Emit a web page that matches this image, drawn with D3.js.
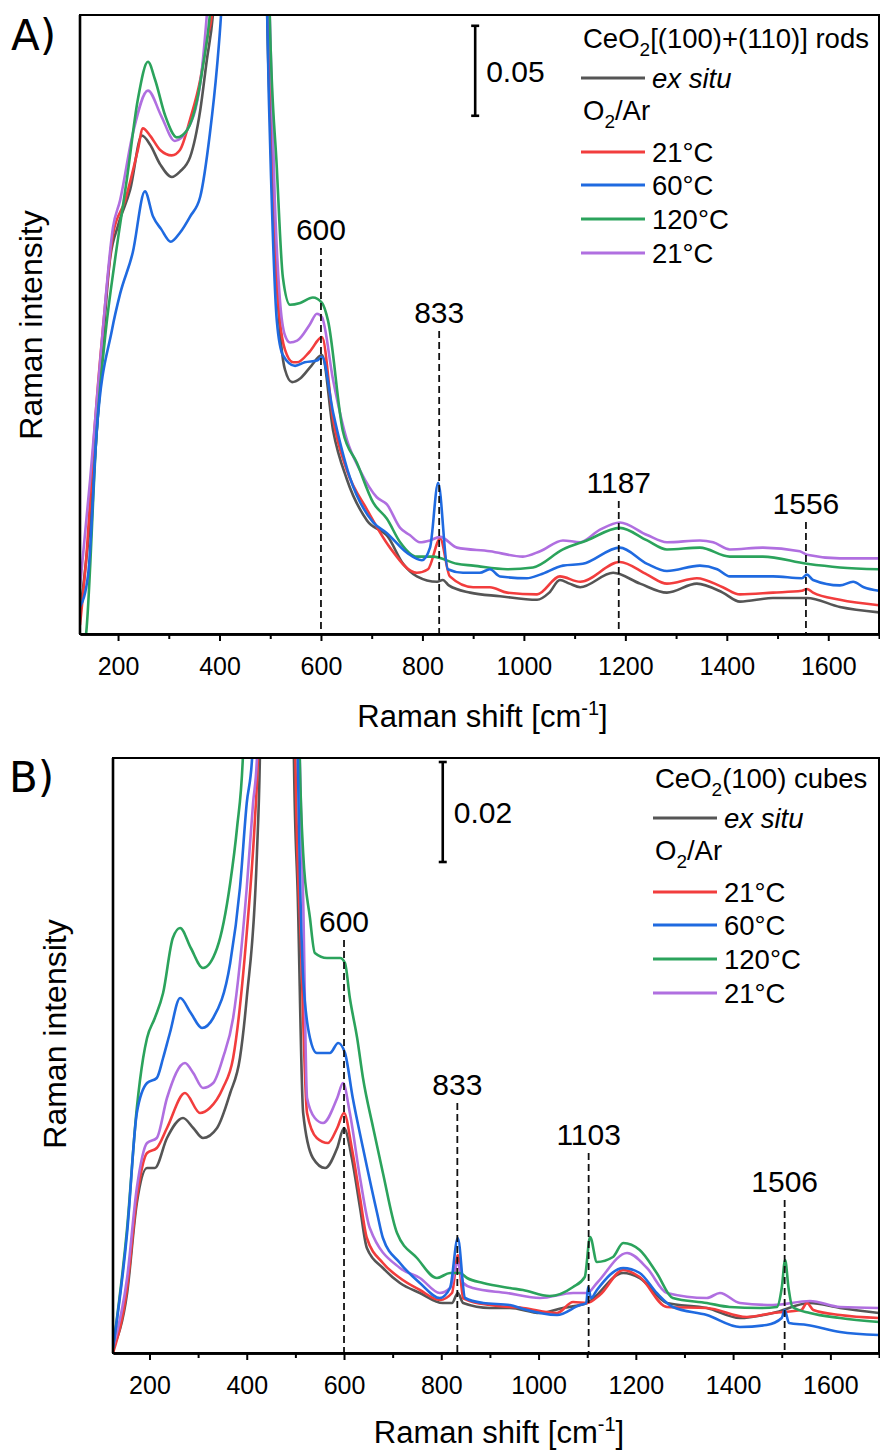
<!DOCTYPE html>
<html>
<head>
<meta charset="utf-8">
<script src="https://cdn.jsdelivr.net/npm/d3@7"></script>
<style>
body { margin: 0; background: #fff; }
text { font-family: "Liberation Sans", Arial, sans-serif; fill: #000; }
</style>
</head>
<body>
<div id="chart"></div>
<script>
// ---- data: Raman shift [cm-1], intensity in units of 0.001 ----
const xDomain = [125, 1700];
const xMajorTicks = [200, 400, 600, 800, 1000, 1200, 1400, 1600];
const xMinorTicks = [300, 500, 700, 900, 1100, 1300, 1500, 1700];

const seriesLabels = ["ex situ", "21°C", "60°C", "120°C", "21°C"];
const seriesColors = ["#555555", "#f23d3d", "#1f6ae0", "#2ba35c", "#b06fe0"];

// A) CeO2 rods
const rodsExSitu = [[125,12],[145,63],[164,136],[184,208],[200,227],[224,247],[247,277],[263,272],[283,261],[306,254],[322,257],[342,265],[362,291],[375,319],[387,344],[420,560],[462,800],[485,560],[494,344],[503,269],[515,186],[529,147],[543,140],[559,142],[578,148],[602,155],[624,113],[651,86],[691,63],[732,54],[762,39],[789,32],[829,29],[840,30],[852,27],[894,23],[953,21],[1026,19],[1050,23],[1071,30],[1090,28],[1111,26],[1176,34],[1229,28],[1282,23],[1341,28],[1392,23],[1426,18],[1491,20],[1558,20],[1623,15],[1700,12]];
const rods21 = [[125,5],[137,41],[155,119],[170,169],[190,222],[214,241],[239,269],[249,281],[263,277],[283,269],[306,266],[322,269],[342,286],[362,308],[375,330],[385,344],[420,560],[462,800],[485,560],[499,297],[509,213],[519,174],[529,158],[545,151],[553,151],[578,157],[602,165],[624,119],[651,91],[691,69],[736,48],[789,34],[811,36],[835,53],[854,32],[900,26],[933,26],[967,23],[1026,22],[1071,32],[1111,29],[1189,40],[1243,33],[1282,28],[1341,31],[1392,26],[1426,22],[1491,23],[1548,24],[1558,25],[1570,23],[1623,19],[1700,16]];
const rods60 = [[125,15],[141,33],[158,113],[188,169],[204,189],[229,212],[253,246],[269,232],[285,225],[304,218],[322,223],[342,232],[362,243],[381,278],[395,315],[403,344],[430,560],[462,800],[485,560],[494,344],[503,241],[513,174],[525,155],[549,149],[568,151],[592,152],[602,154],[624,123],[657,87],[703,62],[730,56],[770,45],[799,41],[815,48],[831,84],[850,36],[880,34],[913,34],[933,36],[953,32],[1006,31],[1032,33],[1077,38],[1116,39],[1189,48],[1243,39],[1282,35],[1347,38],[1381,36],[1406,32],[1491,32],[1548,31],[1558,33],[1570,30],[1623,27],[1649,29],[1670,26],[1700,24]];
const rods120 = [[130,-12],[137,0],[158,113],[176,169],[194,208],[218,254],[239,297],[259,318],[273,308],[293,288],[316,276],[336,280],[356,297],[367,315],[381,344],[420,600],[462,800],[485,600],[499,344],[513,259],[525,198],[539,183],[559,184],[584,187],[602,184],[614,174],[643,113],[671,95],[703,73],[730,64],[756,51],[789,43],[821,43],[868,39],[900,38],[967,36],[1018,37],[1077,47],[1124,52],[1189,59],[1243,52],[1282,47],[1347,48],[1406,43],[1471,43],[1558,39],[1623,37],[1700,36]];
const rods21b = [[125,26],[145,86],[170,169],[190,226],[204,241],[229,278],[259,302],[285,288],[312,274],[336,280],[362,306],[375,344],[420,600],[462,800],[485,600],[499,344],[509,241],[519,186],[529,166],[539,162],[553,163],[578,172],[592,178],[602,176],[624,141],[651,108],[677,91],[710,76],[730,72],[756,59],[775,55],[795,51],[815,52],[835,54],[868,48],[933,46],[998,43],[1032,46],[1077,52],[1111,51],[1150,58],[1189,62],[1243,55],[1282,51],[1347,52],[1373,51],[1406,47],[1471,48],[1544,46],[1558,44],[1623,42],[1700,42]];
const rodsPeaks = [600, 833, 1187, 1556];

// B) CeO2 cubes
const cubesExSitu = [[125,1],[154,12],[174,30],[195,37],[211,37],[236,43],[269,47],[290,45],[310,43],[339,45],[366,52],[386,59],[400,71],[421,100],[427,119],[440,250],[465,400],[490,250],[497,119],[505,91],[516,48],[536,39],[561,37],[586,41],[600,45],[616,39],[633,29],[647,21],[680,17],[715,14],[756,12],[803,10],[822,10],[834,12],[845,10],[900,9],[941,9],[1003,8],[1050,9],[1100,10],[1174,16],[1208,15],[1264,10],[1346,9],[1414,7],[1482,8],[1558,10],[1620,9],[1700,8]];
const cubes21 = [[125,0],[154,13],[174,31],[195,40],[215,41],[236,45],[273,52],[304,48],[324,49],[351,53],[372,59],[400,84],[417,107],[423,119],[440,250],[465,400],[490,250],[500,119],[512,80],[524,48],[544,43],[567,42],[586,45],[600,48],[616,41],[633,31],[647,23],[680,18],[715,15],[756,12.6],[797,10.6],[822,12],[834,19.6],[845,11],[853,10.6],[900,9.6],[968,9],[1038,8],[1071,10.2],[1100,10],[1126,11.6],[1174,16.6],[1208,15.2],[1264,9.2],[1346,9],[1428,7.2],[1482,8],[1540,8.6],[1552,10],[1565,8.6],[1620,7.6],[1700,7]];
const cubes60 = [[125,1],[154,24],[174,48],[195,54],[215,55],[228,59],[242,64],[263,71],[285,68],[308,65],[331,67],[366,78],[386,93],[400,110],[411,119],[440,250],[465,400],[490,250],[505,119],[516,75],[530,63],[544,60],[571,60],[588,62],[602,60],[618,51],[639,41],[668,28],[680,23],[715,18],[756,14],[797,11],[818,13],[834,23],[849,11],[886,10],[941,9.6],[968,8.8],[1038,7.6],[1085,9.6],[1098,10],[1102,13.2],[1108,11],[1120,12.6],[1174,17],[1208,16],[1243,12],[1276,9.2],[1346,7.6],[1414,5.2],[1469,5.6],[1500,7],[1506,8.6],[1515,6],[1552,5.6],[1620,4.2],[1700,3.6]];
const cubes120 = [[125,1],[154,25],[174,49],[187,59],[195,63],[211,67],[228,72],[248,83],[263,85],[285,81],[310,77],[339,81],[366,94],[380,105],[392,119],[420,250],[460,400],[495,250],[509,119],[516,100],[530,87],[540,80],[565,79],[592,79],[602,78],[612,71],[627,63],[639,55],[660,45],[680,36],[709,24],[750,19],[791,15],[818,16],[838,16],[853,15],[886,14],[941,13],[968,12.6],[1023,11.4],[1071,13.2],[1095,15.2],[1106,23.2],[1120,18.2],[1153,19.2],[1174,22],[1208,20.6],[1243,16],[1276,11],[1346,10],[1393,9.2],[1455,9],[1490,9.2],[1500,13],[1507,18.6],[1514,13],[1522,9.2],[1558,8],[1620,7],[1700,6.2]];
const cubes21b = [[125,1],[154,15],[174,33],[195,42],[215,43],[236,51],[273,58],[290,56],[310,53],[331,54],[351,59],[372,67],[400,93],[413,110],[421,119],[440,250],[465,400],[490,250],[509,119],[516,91],[524,51],[540,47],[557,46],[586,51],[598,54],[612,48],[633,35],[653,25],[715,17],[756,15],[797,12],[818,13],[834,18],[845,14],[865,13],[935,12],[1003,11],[1071,12],[1100,12],[1120,14],[1182,20],[1223,17],[1264,12],[1346,11],[1373,12],[1414,10],[1482,9.6],[1558,10.4],[1620,9.2],[1700,9]];
const cubesPeaks = [600, 833, 1103, 1506];

// ---- layout ----
const panels = [
    {
        letter: "A)", letterPos: [11, 50],
        left: 80, top: 15, right: 879, bottom: 634,
        yMax: 344,
        series: [rodsExSitu, rods21, rods60, rods120, rods21b],
        peaks: rodsPeaks, peakLabelY: [240, 323, 493, 514],
        scaleBar: {x: 904, top: 338, size: 50, label: "0.05"},
        legendTitle: ["CeO", "2", "[(100)+(110)] rods"],
        legendX: 583, legendTop: 48, lineX: 581,
        yLabelPos: [42, 325], xLabelY: 727
    },
    {
        letter: "B)", letterPos: [9, 792],
        left: 113, top: 758, right: 879, bottom: 1353,
        yMax: 119,
        series: [cubesExSitu, cubes21, cubes60, cubes120, cubes21b],
        peaks: cubesPeaks, peakLabelY: [932, 1095, 1145, 1192],
        scaleBar: {x: 803, top: 118.2, size: 20, label: "0.02"},
        legendTitle: ["CeO", "2", "(100) cubes"],
        legendX: 655, legendTop: 788, lineX: 653,
        yLabelPos: [66, 1034], xLabelY: 1443
    }
];

const drawOrder = [0, 1, 4, 3, 2];

const svg = d3.select("#chart").append("svg")
    .attr("width", 880)
    .attr("height", 1454);

panels.forEach((p, i) => drawPanel(p, i));

function drawPanel(p, i) {
    let x = d3.scaleLinear().domain(xDomain).range([p.left, p.right]);
    let y = d3.scaleLinear().domain([0, p.yMax]).range([p.bottom, p.top]);

    let g = svg.append("g");

    g.append("clipPath").attr("id", "clip" + i)
        .append("rect")
        .attr("x", p.left).attr("y", p.top)
        .attr("width", p.right - p.left).attr("height", p.bottom - p.top);

    let line = d3.line()
        .x(d => x(d[0]))
        .y(d => y(d[1]))
        .curve(d3.curveMonotoneX);

    // spectra
    g.append("g").attr("clip-path", `url(#clip${i})`)
        .selectAll("path")
        .data(drawOrder)
        .join("path")
        .attr("d", k => line(p.series[k]))
        .attr("fill", "none")
        .attr("stroke", k => seriesColors[k])
        .attr("stroke-width", 2.6)
        .attr("stroke-linejoin", "round");

    // peak markers
    p.peaks.forEach((pk, j) => {
        g.append("line")
            .attr("x1", x(pk)).attr("x2", x(pk))
            .attr("y1", p.peakLabelY[j] + 8).attr("y2", p.bottom)
            .attr("stroke", "#111")
            .attr("stroke-width", 1.8)
            .attr("stroke-dasharray", "7,4");
        g.append("text")
            .attr("x", x(pk)).attr("y", p.peakLabelY[j])
            .attr("text-anchor", "middle")
            .style("font-size", "30px")
            .text(pk);
    });

    // frame
    g.append("rect")
        .attr("x", p.left).attr("y", p.top)
        .attr("width", p.right - p.left).attr("height", p.bottom - p.top)
        .attr("fill", "none").attr("stroke", "#000").attr("stroke-width", 2);
    g.append("line")
        .attr("x1", p.left).attr("x2", p.left)
        .attr("y1", p.top).attr("y2", p.bottom)
        .attr("stroke", "#000").attr("stroke-width", 2.6);

    // x axis
    let minor = g.append("g")
        .attr("transform", `translate(0,${p.bottom})`)
        .call(d3.axisBottom(x).tickValues(xMinorTicks).tickSize(5).tickSizeOuter(0).tickFormat(""));
    let major = g.append("g")
        .attr("transform", `translate(0,${p.bottom})`)
        .call(d3.axisBottom(x).tickValues(xMajorTicks).tickSize(7).tickSizeOuter(0)
            .tickPadding(16).tickFormat(d3.format("d")));
    [minor, major].forEach(ax => {
        ax.select(".domain").attr("stroke-width", 2.6);
        ax.selectAll(".tick line").attr("stroke-width", 2);
    });
    major.selectAll(".tick text")
        .style("font-size", "25px")
        .style("font-family", "'Liberation Sans', Arial, sans-serif")
        .attr("fill", "#000");

    // axis titles
    let xt = g.append("text")
        .attr("x", (p.left + p.right) / 2 + 3).attr("y", p.xLabelY)
        .attr("text-anchor", "middle")
        .style("font-size", "31px");
    xt.append("tspan").text("Raman shift [cm");
    xt.append("tspan").attr("dy", -12).style("font-size", "20px").text("-1");
    xt.append("tspan").attr("dy", 12).text("]");

    g.append("text")
        .attr("transform", `translate(${p.yLabelPos[0]},${p.yLabelPos[1]}) rotate(-90)`)
        .attr("text-anchor", "middle")
        .style("font-size", "32px")
        .text("Raman intensity");

    // panel letter
    g.append("text")
        .attr("x", p.letterPos[0]).attr("y", p.letterPos[1])
        .style("font-family", "'DejaVu Sans', sans-serif")
        .style("font-size", "42px")
        .text(p.letter);

    // scale bar
    let sb = p.scaleBar;
    let sx = x(sb.x), sy0 = y(sb.top), sy1 = y(sb.top - sb.size);
    g.append("line").attr("x1", sx).attr("x2", sx).attr("y1", sy0).attr("y2", sy1)
        .attr("stroke", "#000").attr("stroke-width", 2.6);
    [sy0, sy1].forEach(v => {
        g.append("line").attr("x1", sx - 4).attr("x2", sx + 4).attr("y1", v).attr("y2", v)
            .attr("stroke", "#000").attr("stroke-width", 2.6);
    });
    g.append("text")
        .attr("x", sx + 11).attr("y", (sy0 + sy1) / 2 + 11)
        .style("font-size", "30px")
        .text(sb.label);

    // legend
    let lx = p.legendX, ly = p.legendTop;
    let t = g.append("text").attr("x", lx).attr("y", ly).style("font-size", "27.5px");
    t.append("tspan").text(p.legendTitle[0]);
    t.append("tspan").attr("dy", 8).style("font-size", "19px").text(p.legendTitle[1]);
    t.append("tspan").attr("dy", -8).text(p.legendTitle[2]);

    let rows = [
        {k: 0, y: ly + 30},
        {k: null, y: ly + 64},
        {k: 1, y: ly + 104},
        {k: 2, y: ly + 137},
        {k: 3, y: ly + 171},
        {k: 4, y: ly + 205}
    ];
    rows.forEach(r => {
        if (r.k === null) {
            let o = g.append("text").attr("x", lx).attr("y", r.y + 8).style("font-size", "27.5px");
            o.append("tspan").text("O");
            o.append("tspan").attr("dy", 8).style("font-size", "19px").text("2");
            o.append("tspan").attr("dy", -8).text("/Ar");
            return;
        }
        g.append("line")
            .attr("x1", p.lineX).attr("x2", p.lineX + 64)
            .attr("y1", r.y).attr("y2", r.y)
            .attr("stroke", seriesColors[r.k]).attr("stroke-width", 3);
        g.append("text")
            .attr("x", p.lineX + 71).attr("y", r.y + 10)
            .style("font-size", "27.5px")
            .style("font-style", r.k === 0 ? "italic" : "normal")
            .text(seriesLabels[r.k]);
    });
}
</script>
</body>
</html>
